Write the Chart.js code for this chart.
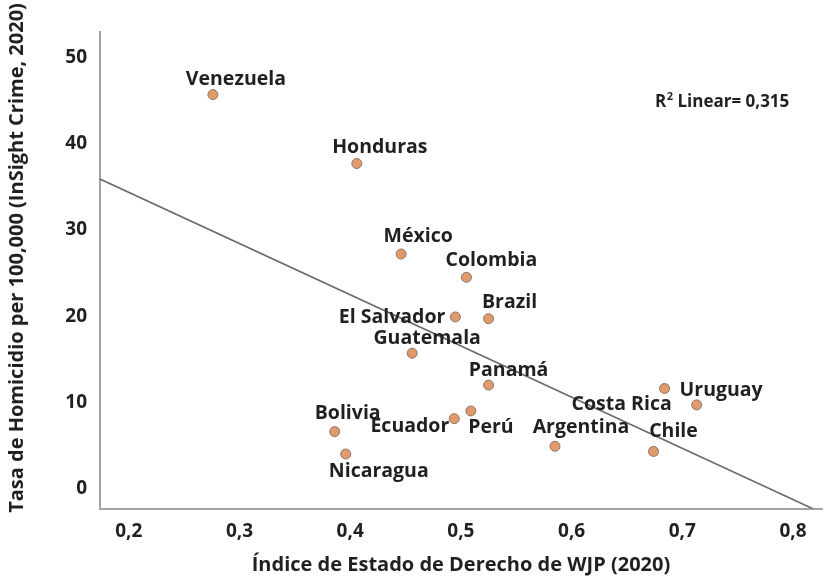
<!DOCTYPE html>
<html>
<head>
<meta charset="utf-8">
<script src="https://cdn.jsdelivr.net/npm/chart.js@4/dist/chart.umd.min.js"></script>
<style>
    html, body { margin: 0; padding: 0; background: #ffffff; }
    #wrap { width: 828px; height: 577px; }
</style>
</head>
<body>
<div id="wrap"><canvas id="chart" width="828" height="577"></canvas></div>
<script>
// Data
const countries = ['Venezuela', 'Honduras', 'México', 'Colombia', 'El Salvador', 'Brazil', 'Guatemala', 'Panamá',
    'Uruguay', 'Costa Rica', 'Perú', 'Ecuador', 'Bolivia', 'Argentina', 'Chile', 'Nicaragua'];
const ruleOfLaw = [0.276, 0.406, 0.446, 0.505, 0.495, 0.525, 0.456, 0.525,
    0.684, 0.713, 0.509, 0.494, 0.386, 0.585, 0.674, 0.396];
const homicideRate = [45.7, 37.7, 27.2, 24.5, 19.9, 19.7, 15.7, 12.0,
    11.6, 9.7, 9.0, 8.1, 6.6, 4.9, 4.3, 4.0];

// Linear fit line (end points)
const fitX = [0.174, 0.819];
const fitY = [35.9, -2.41];

const xTicks = [0.2, 0.3, 0.4, 0.5, 0.6, 0.7, 0.8];
const xTickLabels = ['0,2', '0,3', '0,4', '0,5', '0,6', '0,7', '0,8'];
const yTicks = [0, 10, 20, 30, 40, 50];

const xTitle = 'Índice de Estado de Derecho de WJP (2020)';
const yTitle = 'Tasa de Homicidio per 100,000 (InSight Crime, 2020)';
const r2Text = ['R', '2', ' Linear= 0,315'];

// Where each country label sits relative to its dot: [dx, dy, align]
const labelPlacement = [
    [23, -15, 'center'], [23, -16, 'center'], [17, -18, 'center'], [25, -17, 'center'],
    [-10, 0, 'right'], [21, -16, 'center'], [15, -15, 'center'], [20, -15, 'center'],
    [15, 2, 'left'], [-25, 0, 'right'], [20, 17, 'center'], [-5, 8, 'right'],
    [13, -18, 'center'], [26, -19, 'center'], [20, -20, 'center'], [33, 17, 'center']
];

const textColor = '#231f20';
const axisColor = '#a3a3a5';
const fontFamily = '"Open Sans", "Noto Sans", sans-serif';

// Draw country labels, R2 note and the y title
const annotationsPlugin = {
    id: 'annotations',
    afterDatasetsDraw(chart) {
        const ctx = chart.ctx;
        const meta = chart.getDatasetMeta(1);
        ctx.save();
        ctx.fillStyle = textColor;
        ctx.font = `700 19.5px ${fontFamily}`;
        ctx.textBaseline = 'middle';
        meta.data.forEach((pt, i) => {
            const [dx, dy, align] = labelPlacement[i];
            ctx.textAlign = align;
            ctx.fillText(countries[i], pt.x + dx, pt.y + dy);
        });

        // R2 Linear note
        let x = 655;
        const y = 102;
        ctx.textAlign = 'left';
        ctx.font = `700 17px ${fontFamily}`;
        ctx.fillText(r2Text[0], x, y);
        x += ctx.measureText(r2Text[0]).width;
        ctx.font = `700 11px ${fontFamily}`;
        ctx.fillText(r2Text[1], x + 0.5, y - 5);
        x += ctx.measureText(r2Text[1]).width + 0.5;
        ctx.font = `700 17px ${fontFamily}`;
        ctx.fillText(r2Text[2], x, y);

        // Y axis title
        ctx.translate(17, 258);
        ctx.rotate(-Math.PI / 2);
        ctx.textAlign = 'center';
        ctx.font = `700 20px ${fontFamily}`;
        ctx.fillText(yTitle, 0, 0);
        ctx.restore();
    }
};

const ctx = document.getElementById('chart').getContext('2d');
const chart = new Chart(ctx, {
    type: 'scatter',
    data: {
        datasets: [
            {
                type: 'line',
                data: fitX.map((x, i) => ({ x: x, y: fitY[i] })),
                borderColor: '#6b6b6b',
                borderWidth: 1.6,
                pointRadius: 0,
                fill: false,
                tension: 0
            },
            {
                data: ruleOfLaw.map((x, i) => ({ x: x, y: homicideRate[i] })),
                backgroundColor: '#e19a6c',
                borderColor: '#8c7666',
                borderWidth: 1,
                pointRadius: 5,
                pointHoverRadius: 5
            }
        ]
    },
    options: {
        responsive: false,
        animation: false,
        devicePixelRatio: 1,
        layout: { padding: { top: 32, right: 0, left: 0, bottom: 0 } },
        plugins: {
            legend: { display: false },
            tooltip: { enabled: false }
        },
        scales: {
            x: {
                type: 'linear',
                min: 0.174,
                max: 0.8262,
                grid: { display: false },
                border: { display: true, color: axisColor, width: 2 },
                afterBuildTicks: (scale) => { scale.ticks = xTicks.map(v => ({ value: v })); },
                afterFit: (scale) => {
                    scale.height = 68.5;
                    scale.paddingLeft = 0;
                    scale.paddingRight = 0;
                },
                ticks: {
                    color: textColor,
                    padding: 4,
                    font: { family: fontFamily, size: 19, weight: '700' },
                    callback: (value) => xTickLabels[xTicks.indexOf(value)]
                },
                title: {
                    display: true,
                    text: xTitle,
                    color: textColor,
                    padding: { top: 0, bottom: 0 },
                    font: { family: fontFamily, size: 20, weight: '700' }
                }
            },
            y: {
                type: 'linear',
                min: -2.32,
                max: 52.96,
                grid: { display: false },
                border: { display: true, color: axisColor, width: 2 },
                afterBuildTicks: (scale) => { scale.ticks = yTicks.map(v => ({ value: v })); },
                afterFit: (scale) => {
                    scale.width = 100;
                    scale.paddingTop = 0;
                    scale.paddingBottom = 0;
                },
                ticks: {
                    color: textColor,
                    padding: 5,
                    font: { family: fontFamily, size: 19, weight: '700' }
                }
            }
        }
    },
    plugins: [annotationsPlugin]
});
</script>
</body>
</html>
